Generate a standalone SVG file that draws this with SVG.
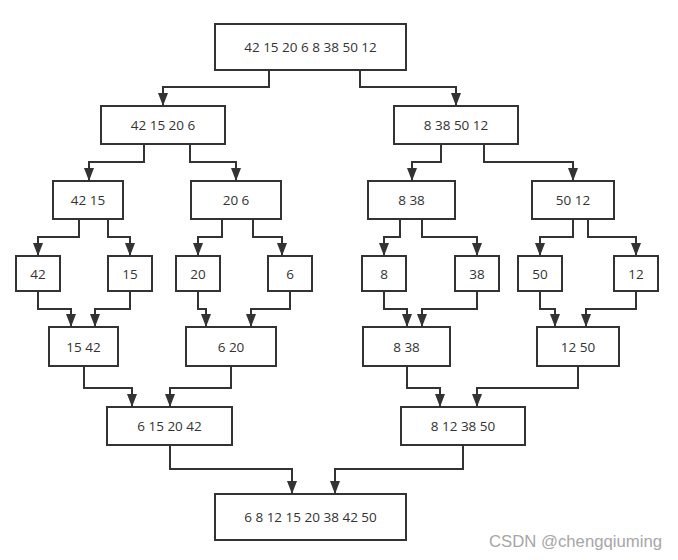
<svg xmlns="http://www.w3.org/2000/svg" width="678" height="560" viewBox="0 0 678 560">
<style>
.box rect{fill:#fff;stroke:#333;stroke-width:2}
.box text{font-family:"Open Sans","Noto Sans",sans-serif;font-size:13.5px;fill:#333;text-anchor:middle;dominant-baseline:central}
#connectors path{fill:none;stroke:#333;stroke-width:2;marker-end:url(#arr)}
.wm{font-family:"Liberation Sans",Arial,sans-serif;font-size:16px;fill:#a6a6a6}
</style>
<defs>
<marker id="arr" markerUnits="userSpaceOnUse" markerWidth="13" markerHeight="10" refX="13" refY="5" orient="auto">
<path d="M0,0 L13,5 L0,10 z" fill="#333"/>
</marker>
</defs>
<rect width="678" height="560" fill="#fff"/>
<g id="connectors">
<path d="M269,70 V87 H163 V106"/>
<path d="M360,70 V87 H456 V106"/>
<path d="M144,144 V162 H89 V181"/>
<path d="M190,144 V162 H236 V181"/>
<path d="M441,144 V162 H412 V181"/>
<path d="M484,144 V162 H573 V181"/>
<path d="M79,219 V237 H38 V256"/>
<path d="M108,219 V237 H130 V256"/>
<path d="M222,219 V237 H198 V256"/>
<path d="M253,219 V237 H282 V256"/>
<path d="M400,219 V237 H384 V256"/>
<path d="M422,219 V237 H477 V256"/>
<path d="M573,219 V237 H540 V256"/>
<path d="M588,219 V237 H636 V256"/>
<path d="M38,291 V309 H71 V327"/>
<path d="M130,291 V309 H95 V327"/>
<path d="M198,291 V309 H206 V327"/>
<path d="M290,291 V309 H251 V327"/>
<path d="M384,291 V309 H407 V327"/>
<path d="M477,291 V309 H422 V327"/>
<path d="M540,291 V309 H555 V327"/>
<path d="M636,291 V309 H586 V327"/>
<path d="M84,366 V388 H132 V407"/>
<path d="M231,366 V388 H170 V407"/>
<path d="M407,366 V388 H440 V407"/>
<path d="M578,366 V388 H477 V407"/>
<path d="M170,445 V469 H292 V494"/>
<path d="M463,445 V469 H335 V494"/>
</g>
<g id="n_root" class="box"><rect x="215" y="24" width="191" height="46"/><text x="310.5" y="47">42 15 20 6 8 38 50 12</text></g>
<g id="n_l2a" class="box"><rect x="101" y="106" width="124" height="38"/><text x="163" y="125">42 15 20 6</text></g>
<g id="n_l2b" class="box"><rect x="394" y="106" width="124" height="38"/><text x="456" y="125">8 38 50 12</text></g>
<g id="n_l3a" class="box"><rect x="53" y="181" width="70" height="38"/><text x="88" y="200">42 15</text></g>
<g id="n_l3b" class="box"><rect x="191" y="181" width="90" height="38"/><text x="236" y="200">20 6</text></g>
<g id="n_l3c" class="box"><rect x="368" y="181" width="87" height="38"/><text x="411.5" y="200">8 38</text></g>
<g id="n_l3d" class="box"><rect x="532" y="181" width="82" height="38"/><text x="573" y="200">50 12</text></g>
<g id="n_42" class="box"><rect x="16" y="256" width="44" height="35"/><text x="38" y="273.5">42</text></g>
<g id="n_15" class="box"><rect x="108" y="256" width="44" height="35"/><text x="130" y="273.5">15</text></g>
<g id="n_20" class="box"><rect x="176" y="256" width="44" height="35"/><text x="198" y="273.5">20</text></g>
<g id="n_6" class="box"><rect x="268" y="256" width="44" height="35"/><text x="290" y="273.5">6</text></g>
<g id="n_8" class="box"><rect x="362" y="256" width="44" height="35"/><text x="384" y="273.5">8</text></g>
<g id="n_38" class="box"><rect x="455" y="256" width="44" height="35"/><text x="477" y="273.5">38</text></g>
<g id="n_50" class="box"><rect x="518" y="256" width="44" height="35"/><text x="540" y="273.5">50</text></g>
<g id="n_12" class="box"><rect x="614" y="256" width="44" height="35"/><text x="636" y="273.5">12</text></g>
<g id="n_m1542" class="box"><rect x="49" y="327" width="69" height="39"/><text x="83.5" y="346.5">15 42</text></g>
<g id="n_m620" class="box"><rect x="186" y="327" width="90" height="39"/><text x="231" y="346.5">6 20</text></g>
<g id="n_m838" class="box"><rect x="363" y="327" width="87" height="39"/><text x="406.5" y="346.5">8 38</text></g>
<g id="n_m1250" class="box"><rect x="537" y="327" width="82" height="39"/><text x="578" y="346.5">12 50</text></g>
<g id="n_m6152042" class="box"><rect x="107" y="407" width="125" height="38"/><text x="169.5" y="426">6 15 20 42</text></g>
<g id="n_m8123850" class="box"><rect x="401" y="407" width="124" height="38"/><text x="463" y="426">8 12 38 50</text></g>
<g id="n_final" class="box"><rect x="215" y="494" width="191" height="46"/><text x="310.5" y="517">6 8 12 15 20 38 42 50</text></g>
<text class="wm" x="489" y="547" textLength="173" lengthAdjust="spacingAndGlyphs">CSDN @chengqiuming</text>
</svg>
